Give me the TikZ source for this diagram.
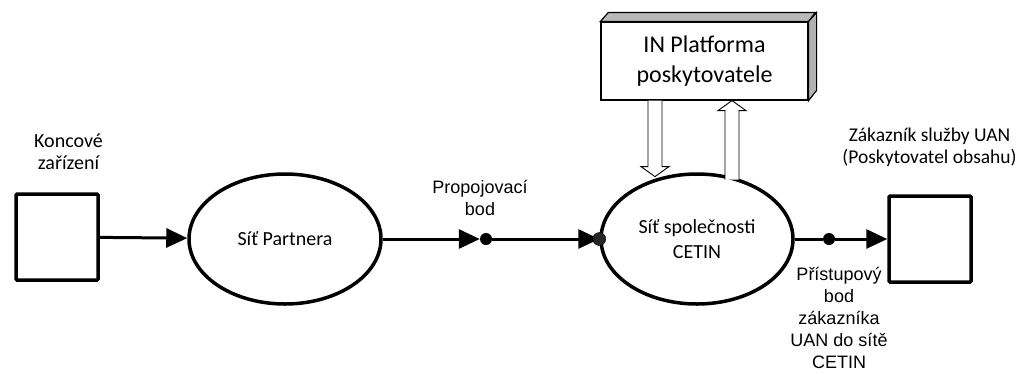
\documentclass[tikz,border=0pt]{standalone}
\usepackage{fontspec}
\setmainfont{Carlito}
\newfontfamily\arialfont{Liberation Sans}
\usetikzlibrary{arrows.meta,shapes.geometric}

\begin{document}
\begin{tikzpicture}[x=1pt,y=-1pt,
    box/.style={draw,line width=3.5pt,rounded corners=1pt,minimum width=82pt,minimum height=86pt,inner sep=0pt},
    net/.style={draw,ellipse,line width=3.5pt,minimum width=192pt,minimum height=130pt,inner sep=0pt,
      align=center,font=\fontsize{20}{25}\selectfont},
    conn/.style={line width=3pt},
    tip/.style={-{Triangle[length=21pt,width=19pt]}},
    bodpt/.style={circle,fill,inner sep=0pt,minimum size=12pt},
    blockarr/.style={draw,fill=white,line width=0.9pt,line join=miter},
    lbl/.style={align=center,font=\fontsize{20}{22}\selectfont},
    albl/.style={align=center,font=\arialfont\fontsize{18}{22}\selectfont}]
  \useasboundingbox (0,0) rectangle (1019,373);

  % boxes and networks
  \node[box] (term) at (57,237) {};
  \node[box] (cust) at (930,239) {};
  \node[net] (partner) at (285,239) {Síť Partnera};
  \node[net] (cetin) at (697,239) {Síť společnosti\\CETIN};

  % IN platform (3d box)
  \node[draw,line width=1.2pt,minimum width=207pt,minimum height=78pt,inner sep=0pt,
    align=center,font=\fontsize{24}{30}\selectfont] (platf) at (704.5,61) {IN Platforma\\poskytovatele};
  \draw[line width=1.2pt,fill=gray!55] (platf.north west) -- ++(8,-9) -- ++(207,0) -- (platf.north east) -- cycle;
  \draw[line width=1.2pt,fill=gray!60] (platf.north east) -- ++(8,-9) -- ++(0,78) -- (platf.south east) -- cycle;

  % block arrows between platform and CETIN
  \draw[blockarr] ([xshift=-56.5pt]platf.south) -- ++(0,66) -- ++(-7,0) -- ++(14,10)
    -- ++(14,-10) -- ++(-7,0) -- ++(0,-66);
  \draw[blockarr] ([xshift=20.5pt,yshift=-79pt]platf.south) -- ++(0,-69) -- ++(-7,0) -- ++(14,-10)
    -- ++(14,10) -- ++(-7,0) -- ++(0,69);

  % points
  \node[bodpt] (bod1) at (486,239) {};
  \node[bodpt] (bod2) at (829,239) {};

  % connectors
  \draw[conn,tip] (term) -- (partner);
  \draw[conn,tip] (partner) -- (bod1);
  \draw[conn,tip] (bod1) -- (cetin);
  \draw[conn] (cetin) -- (bod2);
  \draw[conn,tip] (bod2) -- (cust);
  \node[circle,fill=black!85,draw,inner sep=0pt,minimum size=13pt] (bod0) at (cetin.west) {};

  % labels
  \node[lbl] (koncl) at (68.5,152) {Koncové\\zařízení};
  \node[albl] (propl) at (480,198) {Propojovací\\bod};
  \node[lbl,font=\fontsize{19.5}{22}\selectfont] (zakl) at (929.5,147) {Zákazník služby UAN\\(Poskytovatel obsahu)};
  \node[albl] (pristl) at (839,318) {Přístupový\\bod\\zákazníka\\UAN do sítě\\CETIN};
\end{tikzpicture}
\end{document}
